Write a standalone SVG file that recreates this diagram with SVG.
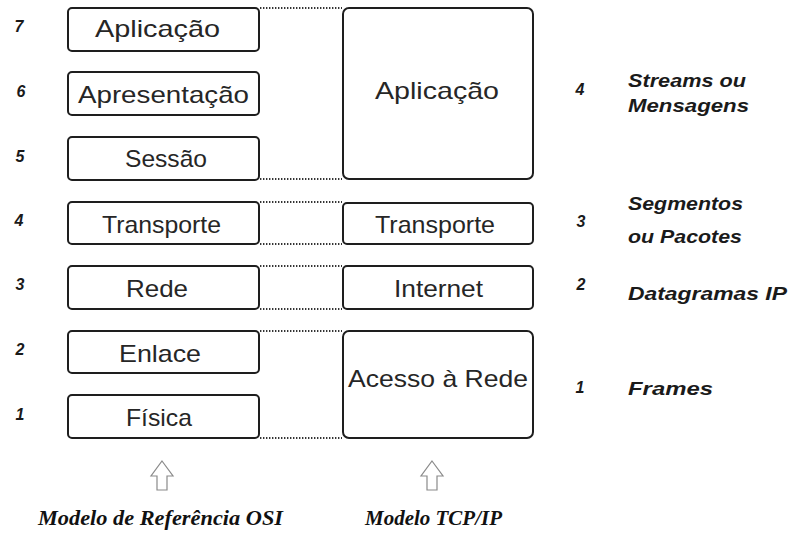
<svg xmlns="http://www.w3.org/2000/svg" width="788" height="534" viewBox="0 0 788 534">
  <style>
    .box { fill: #ffffff; stroke: #1e1e1e; stroke-width: 2; }
    .lbl { font-family: "Liberation Sans", Arial, sans-serif; font-size: 24px; fill: #262626; }
    .num { font-family: "Liberation Sans", Arial, sans-serif; font-size: 16px; font-weight: bold; font-style: italic; fill: #1a1a1a; text-anchor: middle; }
    .unit { font-family: "Liberation Sans", Arial, sans-serif; font-size: 18px; font-weight: bold; font-style: italic; fill: #1a1a1a; }
    .cap { font-family: "Liberation Serif", "Times New Roman", serif; font-size: 21px; font-weight: bold; font-style: italic; fill: #111111; }
    .dot { stroke: #333333; stroke-width: 2; stroke-dasharray: 1.4 1.6; fill: none; }
    .arrow { fill: #ffffff; stroke: #8a8a8a; stroke-width: 1.2; stroke-linejoin: miter; }
  </style>
  <defs>
    <path id="up-arrow" d="M0,0 L11,15 L5,15 L5,29 L-5,29 L-5,15 L-11,15 Z"/>
  </defs>

  <rect width="788" height="534" fill="#ffffff"/>

  <!-- dotted links between the two stacks -->
  <g id="connectors">
    <line class="dot" x1="260" y1="8" x2="342" y2="8"/>
    <line class="dot" x1="260" y1="179" x2="342" y2="179"/>
    <line class="dot" x1="260" y1="202" x2="342" y2="202"/>
    <line class="dot" x1="260" y1="244" x2="342" y2="244"/>
    <line class="dot" x1="260" y1="266" x2="342" y2="266"/>
    <line class="dot" x1="260" y1="309" x2="342" y2="309"/>
    <line class="dot" x1="260" y1="331" x2="342" y2="331"/>
    <line class="dot" x1="260" y1="438" x2="342" y2="438"/>
  </g>

  <!-- OSI layers -->
  <g id="osi-aplicacao">
    <rect class="box" x="68" y="8" width="191" height="43" rx="4"/>
    <text class="lbl" x="95" y="37" textLength="125" lengthAdjust="spacingAndGlyphs">Aplicação</text>
  </g>
  <g id="osi-apresentacao">
    <rect class="box" x="68" y="72" width="191" height="43" rx="4"/>
    <text class="lbl" x="78" y="103" textLength="171" lengthAdjust="spacingAndGlyphs">Apresentação</text>
  </g>
  <g id="osi-sessao">
    <rect class="box" x="68" y="137" width="191" height="43" rx="4"/>
    <text class="lbl" x="125" y="167" textLength="82" lengthAdjust="spacingAndGlyphs">Sessão</text>
  </g>
  <g id="osi-transporte">
    <rect class="box" x="68" y="202" width="191" height="42" rx="4"/>
    <text class="lbl" x="102" y="233" textLength="119" lengthAdjust="spacingAndGlyphs">Transporte</text>
  </g>
  <g id="osi-rede">
    <rect class="box" x="68" y="266" width="191" height="43" rx="4"/>
    <text class="lbl" x="126" y="297" textLength="62" lengthAdjust="spacingAndGlyphs">Rede</text>
  </g>
  <g id="osi-enlace">
    <rect class="box" x="68" y="331" width="191" height="42" rx="4"/>
    <text class="lbl" x="119" y="362" textLength="82" lengthAdjust="spacingAndGlyphs">Enlace</text>
  </g>
  <g id="osi-fisica">
    <rect class="box" x="68" y="395" width="191" height="43" rx="4"/>
    <text class="lbl" x="126" y="426" textLength="66" lengthAdjust="spacingAndGlyphs">Física</text>
  </g>

  <!-- TCP/IP layers -->
  <g id="tcp-aplicacao">
    <rect class="box" x="343" y="8" width="190" height="171" rx="6"/>
    <text class="lbl" x="375" y="99" textLength="124" lengthAdjust="spacingAndGlyphs">Aplicação</text>
  </g>
  <g id="tcp-transporte">
    <rect class="box" x="343" y="203" width="190" height="41" rx="4"/>
    <text class="lbl" x="375" y="233" textLength="120" lengthAdjust="spacingAndGlyphs">Transporte</text>
  </g>
  <g id="tcp-internet">
    <rect class="box" x="343" y="266" width="190" height="43" rx="4"/>
    <text class="lbl" x="394" y="297" textLength="89" lengthAdjust="spacingAndGlyphs">Internet</text>
  </g>
  <g id="tcp-acesso">
    <rect class="box" x="343" y="331" width="190" height="107" rx="6"/>
    <text class="lbl" x="348" y="387" textLength="180" lengthAdjust="spacingAndGlyphs">Acesso à Rede</text>
  </g>

  <!-- OSI layer numbers -->
  <g id="osi-numbers">
    <text class="num" x="19" y="32">7</text>
    <text class="num" x="21" y="97">6</text>
    <text class="num" x="20" y="162">5</text>
    <text class="num" x="19" y="226">4</text>
    <text class="num" x="20" y="290">3</text>
    <text class="num" x="20" y="355">2</text>
    <text class="num" x="20" y="420">1</text>
  </g>

  <!-- TCP/IP layer numbers and data units -->
  <g id="tcp-units">
    <text class="num" x="580" y="95">4</text>
    <text class="unit" x="628" y="87" textLength="118" lengthAdjust="spacingAndGlyphs">Streams ou</text>
    <text class="unit" x="628" y="112" textLength="121" lengthAdjust="spacingAndGlyphs">Mensagens</text>

    <text class="num" x="581" y="227">3</text>
    <text class="unit" x="628" y="210" textLength="115" lengthAdjust="spacingAndGlyphs">Segmentos</text>
    <text class="unit" x="628" y="243" textLength="114" lengthAdjust="spacingAndGlyphs">ou Pacotes</text>

    <text class="num" x="581" y="290">2</text>
    <text class="unit" x="628" y="300" textLength="159" lengthAdjust="spacingAndGlyphs">Datagramas IP</text>

    <text class="num" x="580" y="393">1</text>
    <text class="unit" x="628" y="395" textLength="85" lengthAdjust="spacingAndGlyphs">Frames</text>
  </g>

  <!-- model captions -->
  <g id="caption-osi">
    <use href="#up-arrow" class="arrow" transform="translate(162,461)"/>
    <text class="cap" x="38" y="525" textLength="245" lengthAdjust="spacingAndGlyphs">Modelo de Referência OSI</text>
  </g>
  <g id="caption-tcp">
    <use href="#up-arrow" class="arrow" transform="translate(432,461)"/>
    <text class="cap" x="365" y="525" textLength="137" lengthAdjust="spacingAndGlyphs">Modelo TCP/IP</text>
  </g>
</svg>
